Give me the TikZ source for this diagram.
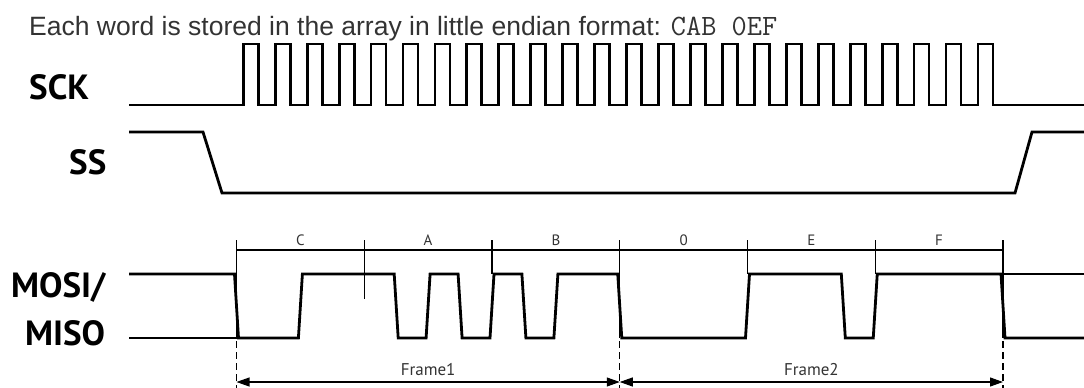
\documentclass[tikz,border=0pt]{standalone}
\usepackage{fontspec}
\setmainfont{Liberation Sans}
\newfontfamily\lblf{PT Sans}
\usetikzlibrary{arrows.meta}
\definecolor{txtgray}{HTML}{333333}
\begin{document}
\begin{tikzpicture}[x=1pt,y=-1pt,
  sig/.style={line width=2.8pt, line join=miter, black},
  fine/.style={line width=1.1pt, black},
  dsh/.style={line width=1.1pt, black, dash pattern=on 7pt off 4pt},
  biglbl/.style={font=\lblf\bfseries\fontsize{35}{35}\selectfont, anchor=base west, inner sep=0pt},
  seglbl/.style={font=\lblf\fontsize{15}{15}\selectfont, text=txtgray, inner sep=0pt},
  frmlbl/.style={font=\lblf\fontsize{17}{17}\selectfont, text=txtgray, inner sep=0pt},
  frmarrow/.style={line width=1.1pt, {Triangle[length=13pt,width=9pt]}-{Triangle[length=13pt,width=9pt]}}]
\useasboundingbox (0,0) rectangle (1084,388);

% header
\node[anchor=base west, inner sep=0pt, text=txtgray, font=\fontsize{26.5}{26.5}\selectfont] (hdr) at (29,35)
  {Each word is stored in the array in little endian format: {\ttfamily\fontsize{29.5}{29.5}\selectfont CAB 0EF}};

% labels
\node[biglbl] (sck) at (29,99) {SCK};
\node[biglbl] (ss) at (69,174) {SS};
\node[biglbl] (mosi) at (11,297) {MOSI/};
\node[biglbl] (miso) at (25,345) {MISO};

% SCK
\draw[sig] (129,105)
  \foreach \k in {0,...,23} {
    -- ({243.3+31.94*\k},105) -- ({243.3+31.94*\k},44)
    -- ({258.3+31.94*\k},44) -- ({258.3+31.94*\k},105) }
  -- (1084,105);

% SS
\draw[sig] (129,132) -- (203,132) -- (222,193) -- (1015,193) -- (1032,132) -- (1084,132);

% ruler coordinates
\coordinate (t0) at (236.5,250);
\coordinate (t1) at (364.25,250);
\coordinate (t2) at (492,250);
\coordinate (t3) at (619.75,250);
\coordinate (t4) at (747.5,250);
\coordinate (t5) at (875.25,250);
\coordinate (t6) at (1003,250);

% MOSI/MISO waveform
\def\H{274}\def\L{338}
\draw[sig] (129,\L) -- (238.5,\L);
\draw[sig] (1001,\H) -- (1084,\H);
\draw[sig] (129,\H) -- (234.5,\H) -- (238.5,\L)
  -- (298.4,\L) -- (302.4,\H)
  -- (394.2,\H) -- (398.2,\L)
  -- (426.1,\L) -- (430.1,\H)
  -- (458.1,\H) -- (462.1,\L)
  -- (490,\L) -- (494,\H)
  -- (521.9,\H) -- (525.9,\L)
  -- (553.9,\L) -- (557.9,\H)
  -- (617.75,\H) -- (621.75,\L)
  -- (745.5,\L) -- (749.5,\H)
  -- (841.3,\H) -- (845.3,\L)
  -- (873.25,\L) -- (877.25,\H)
  -- (1001,\H) -- (1005,\L) -- (1084,\L);

% ruler
\draw[fine] (t0) -- (t6);
\draw[fine] (t0 |- 0,240) -- (t0 |- 0,338);
\draw[fine] (t1 |- 0,240) -- (t1 |- 0,299);
\draw[fine] (t2 |- 0,240) -- (t2 |- 0,274);
\draw[fine] (t3 |- 0,240) -- (t3 |- 0,338);
\draw[fine] (t4 |- 0,240) -- (t4 |- 0,274);
\draw[fine] (t5 |- 0,240) -- (t5 |- 0,274);
\draw[fine] (t6 |- 0,240) -- (t6 |- 0,338);

% dashed guides
\coordinate (d0) at (236.5,388);
\coordinate (d3) at (619.75,388);
\coordinate (d6) at (1003,388);
\draw[dsh] (t0 |- 0,341) -- (d0);
\draw[dsh] (t3 |- 0,341) -- (d3);
\draw[dsh] (t6 |- 0,341) -- (d6);

% segment labels
\node[seglbl] (lc) at (300.4,240) {C};
\node[seglbl] (la) at (428.1,240) {A};
\node[seglbl] (lb) at (555.9,240) {B};
\node[seglbl] (l0) at (683.6,240) {0};
\node[seglbl] (le) at (811.4,240) {E};
\node[seglbl] (lf) at (939.1,240) {F};

% frames
\coordinate (a0) at (236.5,382);
\coordinate (a3) at (619.75,382);
\coordinate (a6) at (1003,382);
\draw[frmarrow] (a0) -- (a3);
\draw[frmarrow] (a3) -- (a6);
\node[frmlbl] (f1) at (428.1,370) {Frame1};
\node[frmlbl] (f2) at (811.4,370) {Frame2};
\end{tikzpicture}
\end{document}
